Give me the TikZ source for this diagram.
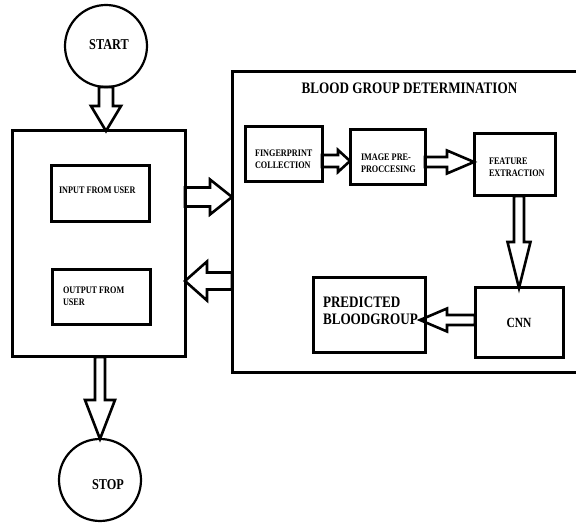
\documentclass[tikz,border=0pt]{standalone}
\usepackage{fontspec}
\setmainfont{Liberation Serif}[FakeStretch=0.82]
\usetikzlibrary{calc}
\newcommand{\blkdown}[5]{\draw[blk] let \p1=(#1), \p2=(#2) in (\x1-#3,\y1) -- (\x1-#3,\y2+#5) -- (\x1-#4,\y2+#5) -- (\x1,\y2) -- (\x1+#4,\y2+#5) -- (\x1+#3,\y2+#5) -- (\x1+#3,\y1) -- cycle;}
\newcommand{\blkright}[5]{\draw[blk] let \p1=(#1), \p2=(#2) in (\x1,\y1+#3) -- (\x2-#5,\y1+#3) -- (\x2-#5,\y1+#4) -- (\x2,\y1) -- (\x2-#5,\y1-#4) -- (\x2-#5,\y1-#3) -- (\x1,\y1-#3) -- cycle;}
\newcommand{\blkleft}[5]{\draw[blk] let \p1=(#1), \p2=(#2) in (\x1,\y1+#3) -- (\x2+#5,\y1+#3) -- (\x2+#5,\y1+#4) -- (\x2,\y1) -- (\x2+#5,\y1-#4) -- (\x2+#5,\y1-#3) -- (\x1,\y1-#3) -- cycle;}
\begin{document}
\begin{tikzpicture}[x=1pt,y=1pt,
  every node/.style={outer sep=0pt},
  term/.style={circle,draw,line width=2.2pt,minimum size=82pt,inner sep=0pt},
  termtext/.style={font=\fontsize{15}{17}\selectfont\bfseries,inner sep=0pt},
  bigbox/.style={rectangle,draw,line width=3pt,inner sep=0pt},
  stepbox/.style={rectangle,draw,line width=3pt,inner sep=0pt},
  small/.style={inner sep=0pt,anchor=north west,align=left,font=\fontsize{10}{12.5}\selectfont\bfseries},
  blk/.style={draw,line width=2.6pt,line join=miter}]
\useasboundingbox (0,0) rectangle (576,524);
% terminals
\node[term,label={[termtext,xshift=3pt,yshift=1pt]center:START}] (start) at (106,478) {};
\node[term,label={[termtext,xshift=8pt,yshift=-5pt]center:STOP}] (stop) at (100,44) {};
% left block
\node[bigbox,minimum width=173pt,minimum height=226pt] (left) at (98.5,280) {};
\node[stepbox,minimum width=98pt,minimum height=56pt] (inp) at (100,330) {};
\node[stepbox,minimum width=98pt,minimum height=55pt] (outp) at (101,226.5) {};
\node[small] (inpt) at ($(inp.north west)+(8,-20.5)$) {INPUT FROM USER};
\node[small] (outpt) at ($(outp.north west)+(11,-16.5)$) {OUTPUT FROM\\USER};
% blood group determination block
\node[bigbox,minimum width=348pt,minimum height=301pt] (bgd) at (406,301.5) {};
\node[anchor=base,inner sep=0pt,font=\fontsize{16}{18}\selectfont\bfseries] (title) at ($(bgd.north west)+(177.5,-22)$) {BLOOD GROUP DETERMINATION};
\node[stepbox,minimum width=77pt,minimum height=55pt] (fc) at (283.5,369.5) {};
\node[stepbox,minimum width=75pt,minimum height=55pt] (ip) at (387.5,366.5) {};
\node[stepbox,minimum width=81pt,minimum height=62pt] (fe) at (514.5,359) {};
\node[stepbox,minimum width=88pt,minimum height=70pt,font=\fontsize{14}{16}\selectfont\bfseries] (cnn) at (519,201) {CNN};
\node[stepbox,minimum width=112pt,minimum height=75pt] (pb) at (369,208.5) {};
\node[small] (fct) at ($(fc.north west)+(10,-22.5)$) {FINGERPRINT\\COLLECTION};
\node[small] (ipt) at ($(ip.north west)+(11,-23.5)$) {IMAGE PRE-\\PROCCESING};
\node[small] (fet) at ($(fe.north west)+(15,-23.5)$) {FEATURE\\EXTRACTION};
\node[small,font=\fontsize{16}{17}\selectfont\bfseries] (pbt) at ($(pb.north west)+(10,-18.5)$) {PREDICTED\\BLOODGROUP};
% connector anchor points
\coordinate (r1) at ($(left.north east)+(0,-66)$);
\coordinate (r2) at ($(bgd.north west)+(0,-209)$);
\coordinate (a4) at ($(fc.east)+(0,-6.5)$);
\coordinate (a5) at ($(ip.east)+(0,-4.5)$);
\coordinate (a7) at ($(cnn.west)+(0,3)$);
\coordinate (t7) at ($(a7 -| pb.east)+(-5,0)$);
% block arrows
\blkdown{start.south}{start.south |- left.north}{7pt}{15pt}{25pt}
\blkright{r1}{r1 -| bgd.west}{9.5pt}{17.5pt}{22pt}
\blkleft{r2}{r2 -| left.east}{8.5pt}{19.5pt}{22pt}
\blkright{a4}{a4 -| ip.west}{6pt}{11pt}{12pt}
\blkright{a5}{a5 -| fe.west}{5pt}{11.5pt}{27pt}
\blkdown{cnn.north |- fe.south}{cnn.north}{5pt}{11.5pt}{46pt}
\blkleft{a7}{t7}{5pt}{11.5pt}{27pt}
\blkdown{stop.north |- left.south}{stop.north}{5pt}{15pt}{39pt}
\end{tikzpicture}
\end{document}
